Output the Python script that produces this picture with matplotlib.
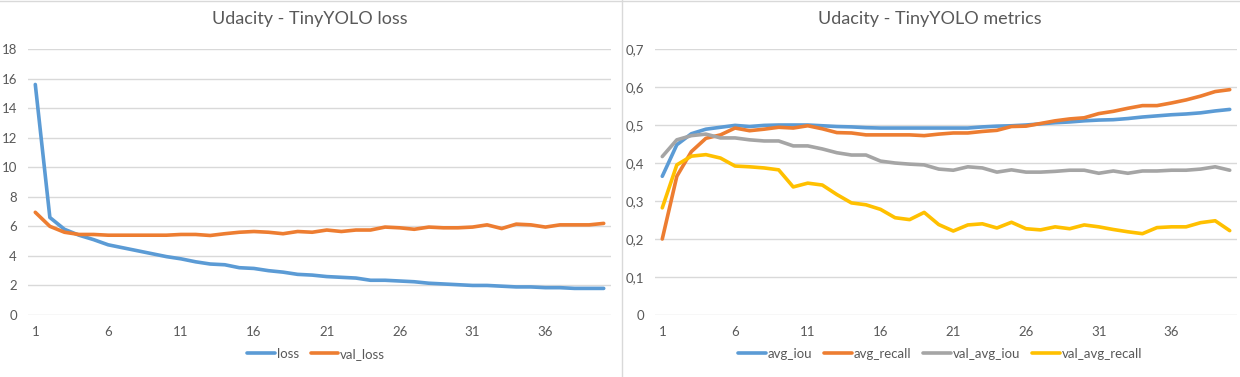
import matplotlib.pyplot as plt
from matplotlib.lines import Line2D
from matplotlib.ticker import FuncFormatter

plt.rcParams["font.family"] = ["Lato", "DejaVu Sans"]

epochs = list(range(1, 41))

loss = [15.6, 6.6, 5.8, 5.4, 5.1, 4.75, 4.55, 4.35, 4.15, 3.95,
        3.8, 3.6, 3.45, 3.4, 3.2, 3.15, 3.0, 2.9, 2.75, 2.7,
        2.6, 2.55, 2.5, 2.35, 2.35, 2.3, 2.25, 2.15, 2.1, 2.05,
        2.0, 2.0, 1.95, 1.9, 1.9, 1.85, 1.85, 1.8, 1.8, 1.8]
val_loss = [6.95, 6.0, 5.6, 5.45, 5.45, 5.4, 5.4, 5.4, 5.4, 5.4,
            5.45, 5.45, 5.38, 5.5, 5.6, 5.65, 5.6, 5.5, 5.65, 5.6,
            5.75, 5.65, 5.75, 5.75, 5.95, 5.9, 5.8, 5.95, 5.9, 5.9,
            5.95, 6.1, 5.85, 6.15, 6.1, 5.95, 6.1, 6.1, 6.1, 6.2]

avg_iou = [0.365, 0.448, 0.477, 0.489, 0.494, 0.499, 0.496, 0.499, 0.5, 0.5,
           0.5, 0.498, 0.496, 0.495, 0.493, 0.492, 0.492, 0.492, 0.492, 0.492,
           0.492, 0.492, 0.495, 0.497, 0.498, 0.5, 0.503, 0.506, 0.508, 0.511,
           0.513, 0.514, 0.517, 0.521, 0.524, 0.527, 0.529, 0.532, 0.537, 0.541]
avg_recall = [0.2, 0.365, 0.43, 0.465, 0.474, 0.492, 0.485, 0.489, 0.494, 0.492,
              0.498, 0.49, 0.48, 0.479, 0.474, 0.474, 0.474, 0.474, 0.472, 0.476,
              0.479, 0.479, 0.483, 0.486, 0.496, 0.497, 0.504, 0.511, 0.516, 0.519,
              0.53, 0.536, 0.544, 0.551, 0.551, 0.558, 0.566, 0.576, 0.588, 0.593]
val_avg_iou = [0.417, 0.461, 0.472, 0.476, 0.466, 0.466, 0.461, 0.458, 0.458, 0.445,
               0.445, 0.437, 0.427, 0.421, 0.421, 0.405, 0.4, 0.397, 0.395, 0.384,
               0.381, 0.39, 0.387, 0.376, 0.382, 0.376, 0.376, 0.378, 0.381, 0.381,
               0.373, 0.379, 0.373, 0.379, 0.379, 0.381, 0.381, 0.384, 0.39, 0.381]
val_avg_recall = [0.282, 0.395, 0.418, 0.422, 0.413, 0.392, 0.39, 0.387, 0.382, 0.337,
                  0.347, 0.342, 0.317, 0.295, 0.29, 0.278, 0.256, 0.251, 0.27, 0.238,
                  0.221, 0.237, 0.24, 0.229, 0.244, 0.227, 0.224, 0.232, 0.227, 0.237,
                  0.232, 0.225, 0.219, 0.214, 0.23, 0.232, 0.232, 0.243, 0.248, 0.222]

blue = "#5B9BD5"
orange = "#ED7D31"
gray = "#A5A5A5"
yellow = "#FFC000"
text_c = "#595959"
grid_c = "#D9D9D9"

W, H = 1240, 377
fig = plt.figure(figsize=(W / 100, H / 100), dpi=100)

# panel frames
fig.add_artist(Line2D([0, 1], [1 - 0.5 / H, 1 - 0.5 / H], color=grid_c, lw=1))
fig.add_artist(Line2D([621.5 / W, 621.5 / W], [0, 1], color=grid_c, lw=1))

bottom = (H - 315) / H
height = (315 - 49) / H
ax1 = fig.add_axes([28 / W, bottom, (611 - 28) / W, height])
ax2 = fig.add_axes([655 / W, bottom, (1237 - 655) / W, height])


def style(ax, ymax, ystep, fmt=None):
    for s in ax.spines.values():
        s.set_visible(False)
    ax.set_xlim(0.5, 40.5)
    ax.set_ylim(0, ymax)
    ax.set_xticks(range(1, 41, 5))
    yt = [round(i * ystep, 2) for i in range(int(round(ymax / ystep)) + 1)]
    ax.set_yticks(yt)
    if fmt:
        ax.yaxis.set_major_formatter(FuncFormatter(fmt))
    ax.tick_params(length=0, colors=text_c, labelsize=9.5, pad=8)
    ax.grid(axis="y", color=grid_c, lw=1)
    ax.set_axisbelow(True)


style(ax1, 18, 2)
style(ax2, 0.7, 0.1, lambda v, p: "0" if v == 0 else ("%.1f" % v).replace(".", ","))

lw = 2.6
ax1.plot(epochs, loss, color=blue, lw=lw, label="loss", solid_capstyle="round")
ax1.plot(epochs, val_loss, color=orange, lw=lw, label="val_loss", solid_capstyle="round")

ax2.plot(epochs, avg_iou, color=blue, lw=lw, label="avg_iou", solid_capstyle="round")
ax2.plot(epochs, avg_recall, color=orange, lw=lw, label="avg_recall", solid_capstyle="round")
ax2.plot(epochs, val_avg_iou, color=gray, lw=lw, label="val_avg_iou", solid_capstyle="round")
ax2.plot(epochs, val_avg_recall, color=yellow, lw=lw, label="val_avg_recall", solid_capstyle="round")

fig.text(310 / W, 1 - 19 / H, "Udacity - TinyYOLO loss", ha="center", va="center",
         fontsize=13, color=text_c)
fig.text(930 / W, 1 - 19 / H, "Udacity - TinyYOLO metrics", ha="center", va="center",
         fontsize=13, color=text_c)

for ax, cx, ncol in [(ax1, 316, 2), (ax2, 940, 4)]:
    ax.legend(loc="center", bbox_to_anchor=(cx / W, 1 - 354 / H), bbox_transform=fig.transFigure,
              ncol=ncol, frameon=False, fontsize=9.5, labelcolor=text_c,
              handlelength=2.1, handletextpad=0.15, columnspacing=0.9)

fig.savefig("out.png", dpi=100)
